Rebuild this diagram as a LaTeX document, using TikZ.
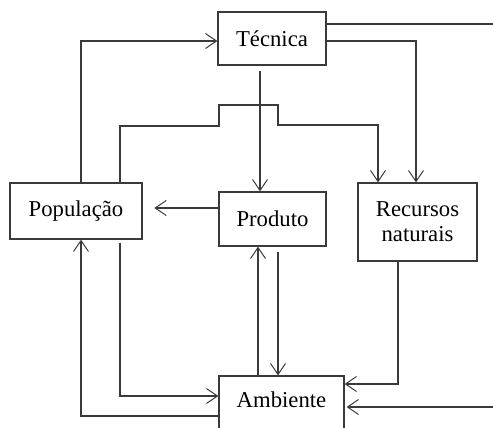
\documentclass[tikz,border=0pt]{standalone}
\usepackage{fontspec}
\setmainfont{Liberation Serif}
\usetikzlibrary{arrows.meta}
\definecolor{ln}{HTML}{3A3A3A}
\begin{document}
\begin{tikzpicture}[x=1pt,y=-1pt,
  box/.style={draw=ln,line width=1.3pt,rectangle,inner sep=0pt,font=\fontsize{22.7}{25}\selectfont,align=center},
  arr/.style={draw=ln,line width=1.3pt,-{Straight Barb[length=11pt,width=15pt,line width=1pt]}},
  ln/.style={draw=ln,line width=1.3pt}]
\useasboundingbox (0,0) rectangle (493,428);
\node[box,minimum width=108pt,minimum height=53pt] (tec) at (272,38.5) {Técnica};
\node[box,minimum width=132pt,minimum height=56pt] (pop) at (76,211) {População};
\node[box,minimum width=107pt,minimum height=54pt] (prod) at (272.5,219) {Produto};
\node[box,minimum width=119pt,minimum height=78pt] (rec) at (417.5,222) {Recursos\\naturais};
\node[box,minimum width=125pt,text height=31pt,text depth=33pt] (amb) at (281.5,408) {Ambiente};
\coordinate (ext1) at (493,24);
\coordinate (ext2) at (493,407);
% Tecnica outputs
\draw[ln] (tec.east |- ext1) -- (ext1);
\draw[arr] ([yshift=-2.5pt]tec.east) -| ([xshift=-1.5pt]rec.north);
\draw[arr] ([xshift=-12pt,yshift=-5pt]tec.south) -- ([xshift=-12.5pt]prod.north);
% Populacao -> Tecnica
\draw[arr] ([xshift=5pt]pop.north) |- ([yshift=-2.5pt]tec.west);
% stepped line Populacao -> Recursos
\draw[arr] ([xshift=44pt]pop.north) |- (219,126) |- (278,105) |- (378,125) -- (378,0 |- rec.north);
% Produto -> Populacao
\draw[arr] ([yshift=11pt]prod.west) -- ++(-64,0);
% Ambiente -> Populacao
\draw[arr] ([yshift=-8pt]amb.west) -| ([xshift=5pt]pop.south);
% Populacao -> Ambiente
\draw[arr] ([xshift=44pt,yshift=-3pt]pop.south) |- ([yshift=12pt]amb.west);
% Ambiente <-> Produto
\draw[arr] (258,0 |- amb.north) -- (258,0 |- prod.south);
\draw[arr] ([xshift=5.5pt,yshift=-5pt]prod.south) -- (278,0 |- amb.north);
% Recursos -> Ambiente
\draw[arr] (398,0 |- rec.south) |- ([yshift=24pt]amb.east);
% external -> Ambiente
\draw[arr] (ext2) -- ([yshift=1pt,xshift=2pt]amb.east);
\end{tikzpicture}
\end{document}
